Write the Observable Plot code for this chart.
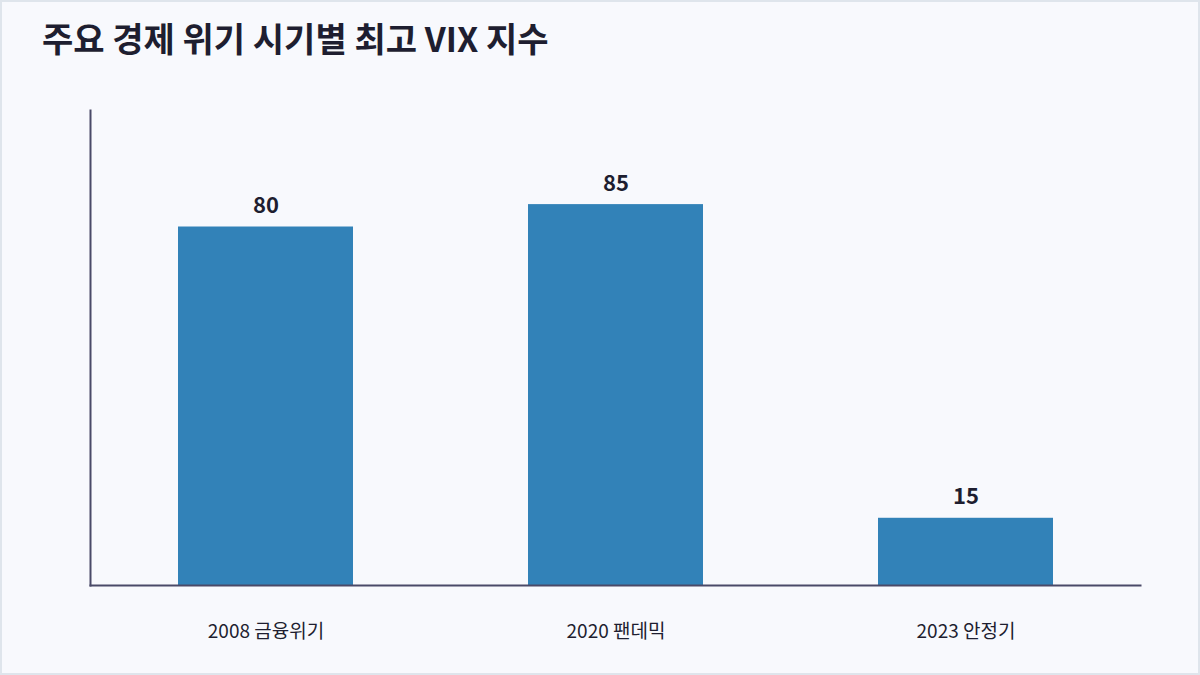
<!DOCTYPE html>
<html><head><meta charset="utf-8">
<script src="https://cdn.jsdelivr.net/npm/d3@7"></script>
<script src="https://cdn.jsdelivr.net/npm/@observablehq/plot@0.6"></script>
<style>
html,body{margin:0;padding:0;}
body{width:1200px;height:675px;background:#f8f9fd;position:relative;overflow:hidden;font-family:"Noto Sans CJK KR","Noto Sans",sans-serif;}
#title{position:absolute;left:42px;top:18px;font-size:34px;font-weight:700;color:#1e1e30;line-height:1.2;}
#chart{position:absolute;left:0;top:0;}
#border{position:absolute;left:0;top:0;width:1196px;height:671px;border:2px solid #dfe5ec;pointer-events:none;}
</style></head>
<body>
<div id="chart"></div>
<div id="title">주요 경제 위기 시기별 최고 VIX 지수</div>
<div id="border"></div>
<script>
const categories = ["2008 금융위기", "2020 팬데믹", "2023 안정기"];
const values = [80, 85, 15];
const yMax = 106;
const data = categories.map((c, i) => ({category: c, value: values[i]}));

const chart = Plot.plot({
  width: 1200,
  height: 675,
  marginTop: 110,
  marginBottom: 90,
  marginLeft: 90,
  marginRight: 60,
  style: {background: "transparent", fontFamily: "'Noto Sans CJK KR','Noto Sans',sans-serif"},
  x: {domain: categories, paddingInner: 0.5, paddingOuter: 0.25, label: null},
  y: {domain: [0, yMax], axis: null},
  marks: [
    Plot.barY(data, {x: "category", y: "value", fill: "#3282b8"}),
    Plot.text(data, {x: "category", y: "value", text: d => String(d.value), dy: -14, lineAnchor: "bottom", fontSize: 22, fontWeight: "bold", fill: "#1e1e30"}),
    Plot.axisX({tickSize: 0, tickPadding: 39, fontSize: 19, color: "#1e1e30", label: null}),
    Plot.frame({anchor: "left", stroke: "#4a4a68", strokeWidth: 2}),
    Plot.frame({anchor: "bottom", stroke: "#4a4a68", strokeWidth: 2})
  ]
});
document.getElementById("chart").appendChild(chart);
</script>
</body></html>
